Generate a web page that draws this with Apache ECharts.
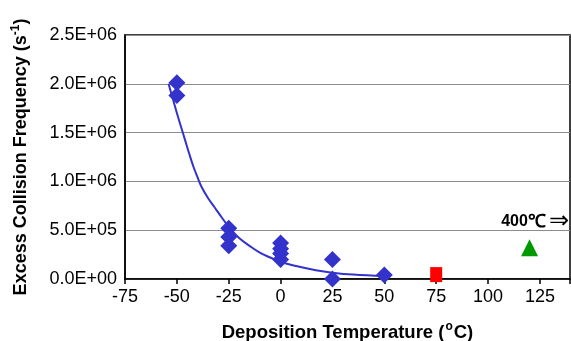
<!DOCTYPE html>
<html>
<head>
<meta charset="utf-8">
<script src="https://cdn.jsdelivr.net/npm/echarts@6/dist/echarts.min.js"></script>
<style>html,body{margin:0;padding:0;background:#fff;}#c{width:571px;height:341px;}</style>
</head>
<body>
<div id="c"></div>
<script>
// Measured data (blue diamonds)
var diamondX = [-50, -50, -25, -25, -25, 0, 0, 0, 0, 25, 25, 50];
var diamondY = [2.01e6, 1.88e6, 0.52e6, 0.43e6, 0.34e6, 0.37e6, 0.31e6, 0.26e6, 0.20e6, 0.20e6, 0.0e6, 0.04e6];
// Red square and green triangle
var squareX = [75];
var squareY = [0.045e6];
var triangleX = [120];
var triangleY = [0.32e6];
// Trend line
var trendX = [-54, -52, -50, -48, -46, -44, -42, -40, -38, -35, -32, -28, -24.5, -20, -15, -10, -5, 0, 8, 17, 25, 35, 50];
var trendY = [2.0e6, 1.85e6, 1.70e6, 1.56e6, 1.42e6, 1.28e6, 1.15e6, 1.04e6, 0.94e6, 0.83e6, 0.74e6, 0.62e6, 0.52e6, 0.42e6, 0.34e6, 0.27e6, 0.22e6, 0.175e6, 0.13e6, 0.09e6, 0.065e6, 0.045e6, 0.03e6];
var xTicks = [-75, -50, -25, 0, 25, 50, 75, 100, 125];
var yTicks = [0, 0.5e6, 1.0e6, 1.5e6, 2.0e6, 2.5e6];
var annotation = '400';

function zip(a, b) { return a.map(function (v, i) { return [v, b[i]]; }); }
function fmtE(v) {
  var s = Number(v).toExponential(1);
  var m = s.split('e');
  var exp = parseInt(m[1], 10);
  var sign = exp < 0 ? '-' : '+';
  var e = Math.abs(exp);
  return m[0] + 'E' + sign + (e < 10 ? '0' + e : e);
}

var chart = echarts.init(document.getElementById('c'));
var FONT = '"Liberation Sans", Arial, sans-serif';
chart.setOption({
  animation: false,
  grid: { left: 125, right: 1, top: 35, bottom: 62, outerBoundsMode: 'none', containLabel: false, show: true, borderColor: '#000', borderWidth: 1.5, backgroundColor: '#fff' },
  xAxis: {
    type: 'value', min: -75, max: 139.5, interval: 25,
    axisLine: { show: true, onZero: false, lineStyle: { color: '#000', width: 1.5 } },
    axisTick: { show: true, inside: false, length: 5, lineStyle: { color: '#000', width: 1.5 } },
    splitLine: { show: false },
    axisLabel: {
      color: '#000', fontFamily: FONT, fontSize: 18, margin: 9,
      formatter: function (v) { return xTicks.indexOf(v) >= 0 ? String(v) : ''; }
    },
    name: '{t|Deposition Temperature (}{s|o}{t|C)}',
    nameLocation: 'middle', nameGap: 42,
    nameTextStyle: {
      rich: {
        t: { fontFamily: FONT, fontWeight: 'bold', fontSize: 18.5, color: '#000' },
        s: { fontFamily: FONT, fontWeight: 'bold', fontSize: 12, color: '#000', padding: [0, 1, 12, 1] }
      }
    }
  },
  yAxis: {
    type: 'value', min: 0, max: 2.5e6, interval: 0.5e6,
    axisLine: { show: true, onZero: false, lineStyle: { color: '#000', width: 1.5 } },
    axisTick: { show: false },
    splitLine: { show: true, lineStyle: { color: '#8c8c8c', width: 1.2 } },
    axisLabel: { color: '#000', fontFamily: FONT, fontSize: 18, margin: 8, formatter: fmtE },
    name: '{t|Excess Collision Frequency (s}{s|-1}{t|)}',
    nameLocation: 'middle', nameGap: 93, nameRotate: 90,
    nameTextStyle: {
      rich: {
        t: { fontFamily: FONT, fontWeight: 'bold', fontSize: 18, color: '#000' },
        s: { fontFamily: FONT, fontWeight: 'bold', fontSize: 12, color: '#000', padding: [0, 0, 10, 0] }
      }
    }
  },
  series: [
    {
      type: 'line', data: zip(trendX, trendY), smooth: 0.4, showSymbol: false, symbol: 'none',
      lineStyle: { color: '#3333CC', width: 2 }, z: 2
    },
    {
      type: 'scatter', data: zip(diamondX, diamondY), symbol: 'diamond', symbolSize: [17, 17],
      itemStyle: { color: '#3333CC', opacity: 1 }, z: 3
    },
    {
      type: 'scatter', data: zip(squareX, squareY), symbol: 'rect', symbolSize: [12, 15],
      itemStyle: { color: '#FF0000', opacity: 1 }, z: 3
    },
    {
      type: 'scatter', data: zip(triangleX, triangleY), symbol: 'triangle', symbolSize: [17, 17],
      itemStyle: { color: '#009900', opacity: 1 }, z: 3
    }
  ],
  graphic: [
    {
      type: 'text', right: 2, top: 210, z: 10,
      style: {
        text: '{a|' + annotation + '}{b|℃}{c|⇒}',
        rich: {
          a: { fontFamily: FONT, fontWeight: 'bold', fontSize: 16, fill: '#000' },
          b: { fontFamily: '"Liberation Serif", "Times New Roman", serif', fontWeight: 'bold', fontSize: 18, fill: '#000', padding: [0, 3, 0, 0] },
          c: { fontFamily: '"DejaVu Sans", sans-serif', fontSize: 24, fill: '#000' }
        }
      }
    }
  ]
});
</script>
</body>
</html>
